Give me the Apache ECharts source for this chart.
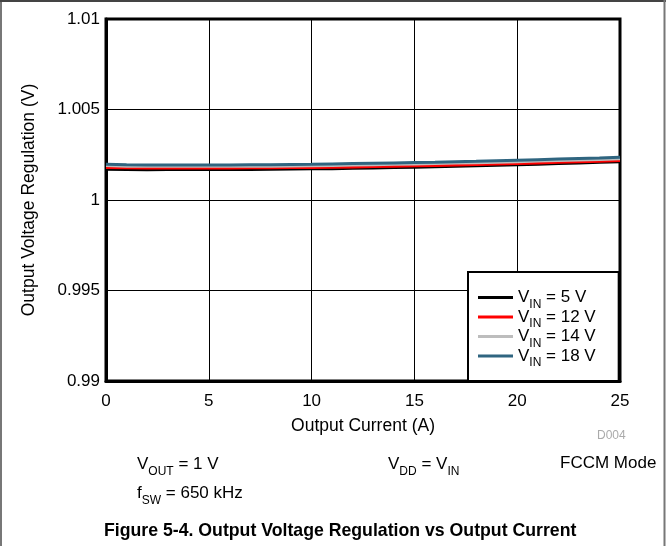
<!DOCTYPE html>
<html>
<head>
<meta charset="utf-8">
<script src="https://cdn.jsdelivr.net/npm/echarts@6/dist/echarts.min.js"></script>
<style>
html,body{margin:0;padding:0;background:#fff;}
#chart{width:668px;height:546px;}
</style>
</head>
<body>
<div id="chart"></div>
<script>
const current = [0,1,2,3,4,5,6,7,8,9,10,11,12,13,14,15,16,17,18,19,20,21,22,23,24,25];
const vin5  = [1.00170,1.00168,1.00167,1.00168,1.00168,1.00168,1.00169,1.00169,1.00170,1.00171,1.00172,1.00173,1.00175,1.00177,1.00179,1.00181,1.00184,1.00186,1.00189,1.00192,1.00195,1.00198,1.00201,1.00204,1.00208,1.00212];
const vin12 = [1.00180,1.00178,1.00177,1.00177,1.00177,1.00177,1.00177,1.00178,1.00178,1.00179,1.00180,1.00181,1.00183,1.00185,1.00187,1.00189,1.00191,1.00193,1.00196,1.00199,1.00202,1.00205,1.00208,1.00211,1.00214,1.00218];
const vin14 = [1.00190,1.00187,1.00186,1.00186,1.00186,1.00186,1.00186,1.00187,1.00187,1.00188,1.00189,1.00191,1.00193,1.00195,1.00197,1.00199,1.00201,1.00204,1.00206,1.00209,1.00212,1.00215,1.00218,1.00221,1.00224,1.00228];
const vin18 = [1.00198,1.00195,1.00194,1.00194,1.00194,1.00194,1.00194,1.00195,1.00195,1.00196,1.00197,1.00199,1.00201,1.00203,1.00205,1.00207,1.00209,1.00212,1.00214,1.00217,1.00220,1.00223,1.00226,1.00229,1.00232,1.00236];
const seriesNames = ['VIN = 5 V','VIN = 12 V','VIN = 14 V','VIN = 18 V'];
const seriesColors = ['#000000','#ff0000','#bdbdbd','#2f6580'];
const xTicks = [0,5,10,15,20,25];
const yTicks = [0.99,0.995,1,1.005,1.01];

const FONT = '"Liberation Sans", Arial, Helvetica, sans-serif';
const chart = echarts.init(document.getElementById('chart'), null, {renderer:'canvas'});
const allData = [vin5, vin12, vin14, vin18];
const series = allData.map((d,i)=>({
  name: seriesNames[i],
  type: 'line',
  symbol: 'none',
  smooth: false,
  data: current.map((c,j)=>[c,d[j]]),
  lineStyle: {color: seriesColors[i], width: 3},
  itemStyle: {color: seriesColors[i]},
  z: 2 + i
}));

function vFmt(v){ return parseFloat(v.toFixed(4)).toString(); }
const rich = {
  a: {fontFamily: FONT, fontSize: 17, color: '#000', lineHeight: 20, verticalAlign: 'middle'},
  s: {fontFamily: FONT, fontSize: 12, color: '#000', lineHeight: 20, verticalAlign: 'bottom', padding:[0,0,-3,0]}
};

chart.setOption({
  animation: false,
  backgroundColor: '#fff',
  grid: {left: 106, right: 48, top: 19, bottom: 165, show: true, borderColor: '#000', borderWidth: 3, backgroundColor: 'transparent', containLabel: false},
  xAxis: {
    type: 'value', min: xTicks[0], max: xTicks[xTicks.length-1], interval: 5,
    name: 'Output Current (A)', nameLocation: 'middle', nameGap: 36,
    nameTextStyle: {fontFamily: FONT, fontSize: 17.5, color: '#000'},
    axisLine: {show: true, lineStyle: {color: '#000', width: 3}},
    axisTick: {show: false},
    axisLabel: {fontFamily: FONT, fontSize: 17, color: '#000', margin: 12},
    splitLine: {show: true, lineStyle: {color: '#000', width: 1}}
  },
  yAxis: {
    type: 'value', min: yTicks[0], max: yTicks[yTicks.length-1], interval: 0.005,
    name: 'Output Voltage Regulation (V)', nameLocation: 'middle', nameGap: 68,
    nameTextStyle: {fontFamily: FONT, fontSize: 17.5, color: '#000'},
    axisLine: {show: true, lineStyle: {color: '#000', width: 3}},
    axisTick: {show: false},
    axisLabel: {fontFamily: FONT, fontSize: 17, color: '#000', margin: 6, formatter: vFmt},
    splitLine: {show: true, lineStyle: {color: '#000', width: 1}}
  },
  legend: {
    orient: 'vertical', left: 468, top: 272,
    backgroundColor: '#fff', borderColor: '#000', borderWidth: 2,
    padding: [17, 23, 12, 10],
    itemWidth: 35, itemHeight: 14, itemGap: -2,
    data: seriesNames.map(n=>({name:n, icon:'path://M0,6 L35,6 L35,9 L0,9 Z'})),
    formatter: function(name){ return '{a|V}{s|IN}{a|' + name.slice(3) + '}'; },
    textStyle: {fontFamily: FONT, fontSize: 17, color: '#000', rich: rich}
  },
  series: series,
  graphic: [
    {type:'line', shape:{x1:1,y1:0,x2:1,y2:546}, style:{stroke:'#777', lineWidth:2}},
    {type:'line', shape:{x1:0,y1:1,x2:666,y2:1}, style:{stroke:'#444', lineWidth:2}},
    {type:'line', shape:{x1:664.5,y1:0,x2:664.5,y2:546}, style:{stroke:'#777', lineWidth:2}},
    {type:'text', left: 597, top: 430, style:{text:'D004', font:'12px ' + FONT, fill:'#aaa'}},
    {type:'text', left: 137, top: 456, style:{text:'{a|V}{s|OUT}{a| = 1 V}', rich: rich}},
    {type:'text', left: 388, top: 456, style:{text:'{a|V}{s|DD}{a| = V}{s|IN}', rich: rich}},
    {type:'text', left: 560, top: 455, style:{text:'{a|FCCM Mode}', rich: rich}},
    {type:'text', left: 137, top: 485, style:{text:'{a|f}{s|SW}{a| = 650 kHz}', rich: rich}},
    {type:'text', left: 104, top: 522, style:{text:'Figure 5-4. Output Voltage Regulation vs Output Current', font:'bold 17.7px ' + FONT, fill:'#000'}}
  ]
});
</script>
</body>
</html>
